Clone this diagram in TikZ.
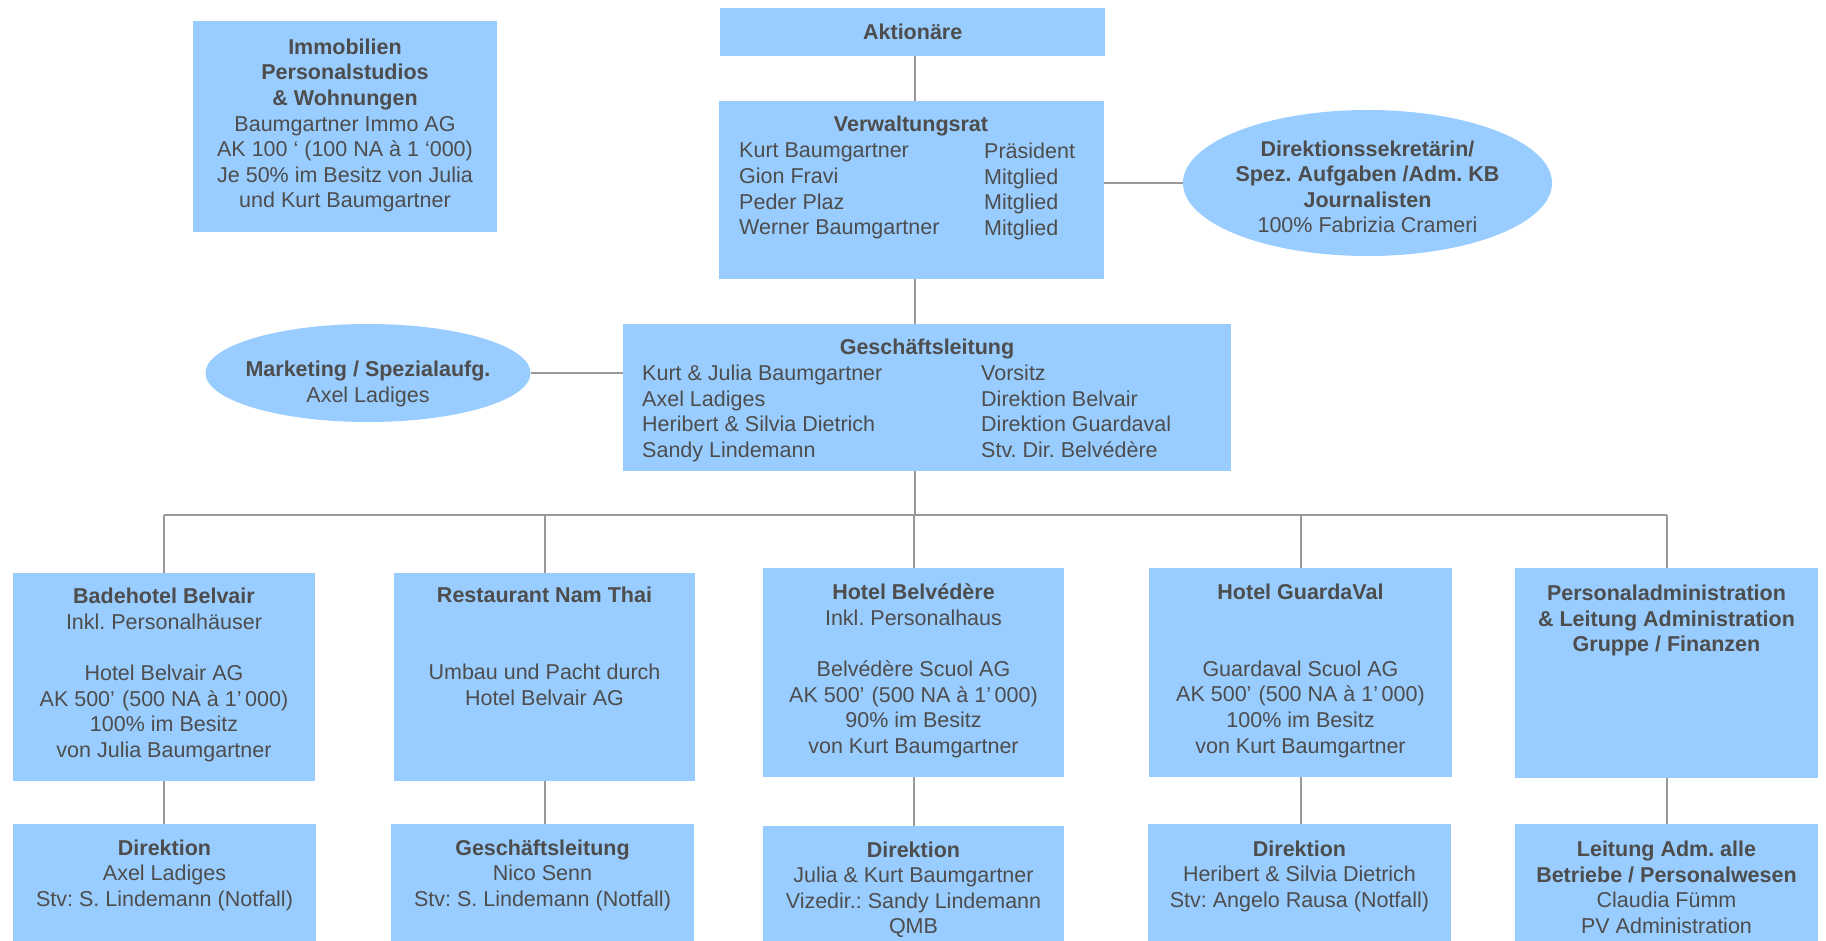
\documentclass[tikz,border=0pt]{standalone}
\usepackage{fontspec}
\setmainfont{Liberation Sans}
\usetikzlibrary{shapes.geometric}
\definecolor{boxfill}{HTML}{99CCFF}
\definecolor{txtcol}{HTML}{4D4D4D}
\definecolor{linecol}{HTML}{999999}
\frenchspacing
\tikzset{
  box/.style={fill=boxfill, draw=none, inner sep=0pt, anchor=north west},
  oval/.style={ellipse, fill=boxfill, draw=none, inner sep=0pt},
  txt/.style={font=\fontsize{21.5}{25.6}\selectfont\frenchspacing, text=txtcol, inner sep=0pt, align=center, anchor=north},
  ltxt/.style={font=\fontsize{21.5}{25.6}\selectfont\frenchspacing, text=txtcol, inner sep=0pt, align=left, anchor=north west},
  conn/.style={draw=linecol, line width=2.2pt},
}
\begin{document}
\begin{tikzpicture}[x=1pt,y=-1pt]
\useasboundingbox (0,0) rectangle (1826,941);
\fill[white] (0,0) rectangle (1826,941);

% ---- boxes ----
\node[box, minimum width=304pt, minimum height=211pt] (imm) at (193,21) {};
\node[box, minimum width=385pt, minimum height=48pt, font=\fontsize{21.5}{25.6}\selectfont\bfseries, text=txtcol] (akt) at (720,8) {Aktionäre};
\node[box, minimum width=385pt, minimum height=178pt] (vr) at (719,101) {};
\node[box, minimum width=608pt, minimum height=147pt] (gl) at (623,324) {};
\node[oval, minimum width=369pt, minimum height=146pt] (sek) at (1367.5,183) {};
\node[oval, minimum width=325pt, minimum height=98pt] (mkt) at (368,373) {};

\node[box, minimum width=302pt, minimum height=208pt] (bade) at (13,573) {};
\node[box, minimum width=301pt, minimum height=208pt] (rest) at (394,573) {};
\node[box, minimum width=301pt, minimum height=209pt] (belv) at (763,568) {};
\node[box, minimum width=303pt, minimum height=209pt] (guard) at (1149,568) {};
\node[box, minimum width=303pt, minimum height=210pt] (pers) at (1515,568) {};

\node[box, minimum width=303pt, minimum height=117pt] (dir1) at (13,824) {};
\node[box, minimum width=303pt, minimum height=117pt] (gl2) at (391,824) {};
\node[box, minimum width=301pt, minimum height=115pt] (dir3) at (763,826) {};
\node[box, minimum width=303pt, minimum height=117pt] (dir4) at (1148,824) {};
\node[box, minimum width=303pt, minimum height=117pt] (lei) at (1515,824) {};

% ---- connectors ----
\coordinate (trunk) at (915,515);
\draw[conn] (trunk |- akt.south) -- (trunk |- vr.north);
\draw[conn] (trunk |- vr.south) -- (trunk |- gl.north);
\draw[conn] (trunk |- gl.south) -- (trunk);
\draw[conn] (vr.east |- sek.west) -- (sek.west);
\draw[conn] (mkt.east) -- (mkt.east -| gl.west);
\draw[conn] (bade.north |- trunk) -- (pers.north |- trunk);
\draw[conn] (bade.north |- trunk) -- (bade.north);
\draw[conn] (rest.north |- trunk) -- (rest.north);
\draw[conn] (belv.north |- trunk) -- (belv.north);
\draw[conn] (guard.north |- trunk) -- (guard.north);
\draw[conn] (pers.north |- trunk) -- (pers.north);
\draw[conn] (bade.south) -- (bade.south |- dir1.north);
\draw[conn] (rest.south) -- (rest.south |- gl2.north);
\draw[conn] (belv.south) -- (belv.south |- dir3.north);
\draw[conn] (guard.south) -- (guard.south |- dir4.north);
\draw[conn] (pers.south) -- (pers.south |- lei.north);

% ---- texts ----
\node[txt] (immT) at (345,38.6) {\textbf{Immobilien}\\\textbf{Personalstudios}\\\textbf{\& Wohnungen}\\Baumgartner Immo AG\\AK 100 ‘ (100 NA à 1 ‘000)\\Je 50\% im Besitz von Julia\\und Kurt Baumgartner};

\node[txt] (vrT) at (911,116) {\textbf{Verwaltungsrat}};
\node[ltxt] (vrL) at (739,143) {Kurt Baumgartner\\Gion Fravi\\Peder Plaz\\Werner Baumgartner};
\node[ltxt] (vrR) at (984,143) {Präsident\\Mitglied\\Mitglied\\Mitglied};

\node[txt] (sekT) at (1367.5,140.3) {\textbf{Direktionssekretärin/}\\\textbf{Spez. Aufgaben /Adm. KB}\\\textbf{Journalisten}\\100\% Fabrizia Crameri};

\node[txt] (mktT) at (368,361) {\textbf{Marketing / Spezialaufg.}\\Axel Ladiges};

\node[txt] (glT) at (927,338.5) {\textbf{Geschäftsleitung}};
\node[ltxt] (glL) at (642,365) {Kurt \& Julia Baumgartner\\Axel Ladiges\\Heribert \& Silvia Dietrich\\Sandy Lindemann};
\node[ltxt] (glR) at (981,365) {Vorsitz\\Direktion Belvair\\Direktion Guardaval\\Stv. Dir. Belvédère};

\node[txt] (badeT) at (164,588) {\textbf{Badehotel Belvair}\\Inkl. Personalhäuser\\\mbox{}\\Hotel Belvair AG\\AK 500’\,\,(500 NA à 1’\,000)\\100\% im Besitz\\von Julia Baumgartner};
\node[txt] (restT) at (544.5,587) {\textbf{Restaurant Nam Thai}\\\mbox{}\\\mbox{}\\Umbau und Pacht durch\\Hotel Belvair AG};
\node[txt] (belvT) at (913.5,583.7) {\textbf{Hotel Belvédère}\\Inkl. Personalhaus\\\mbox{}\\Belvédère Scuol AG\\AK 500’\,\,(500 NA à 1’\,000)\\90\% im Besitz\\von Kurt Baumgartner};
\node[txt] (guardT) at (1300.5,583.7) {\textbf{Hotel GuardaVal}\\\mbox{}\\\mbox{}\\Guardaval Scuol AG\\AK 500’\,\,(500 NA à 1’\,000)\\100\% im Besitz\\von Kurt Baumgartner};
\node[txt] (persT) at (1666.5,584.7) {\textbf{Personaladministration}\\\textbf{\& Leitung Administration}\\\textbf{Gruppe / Finanzen}};

\node[txt] (dir1T) at (164.5,839.3) {\textbf{Direktion}\\Axel Ladiges\\Stv: S. Lindemann (Notfall)};
\node[txt] (gl2T) at (542.5,839.3) {\textbf{Geschäftsleitung}\\Nico Senn\\Stv: S. Lindemann (Notfall)};
\node[txt] (dir3T) at (913.5,841.3) {\textbf{Direktion}\\Julia \& Kurt Baumgartner\\Vizedir.: Sandy Lindemann\\QMB};
\node[txt] (dir4T) at (1299.5,840.3) {\textbf{Direktion}\\Heribert \& Silvia Dietrich\\Stv: Angelo Rausa (Notfall)};
\node[txt] (leiT) at (1666.5,840.7) {\textbf{Leitung Adm. alle}\\\textbf{Betriebe / Personalwesen}\\Claudia Fümm\\PV Administration};
\end{tikzpicture}
\end{document}
